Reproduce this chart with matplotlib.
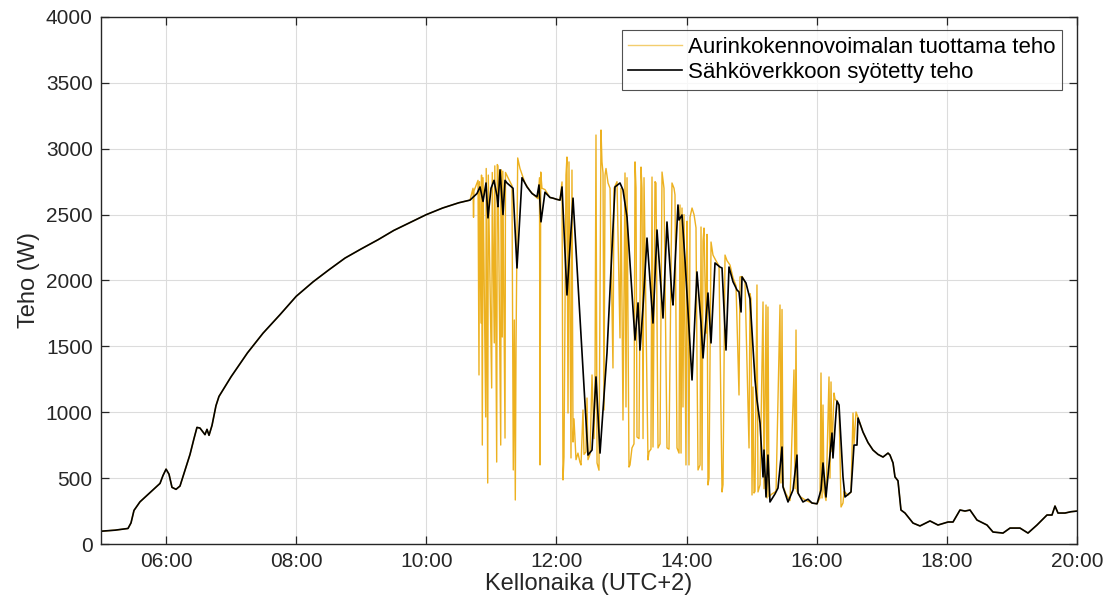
import matplotlib
matplotlib.use("Agg")
import matplotlib.pyplot as plt
import numpy as np

plt.rcParams['font.family'] = ['Liberation Sans', 'DejaVu Sans']

# Grid feed-in power (W), time in decimal hours
grid_t = [
    5.000, 5.215, 5.415, 5.461, 5.507, 5.599, 5.753, 5.907, 5.953, 6.000,
    6.045, 6.091, 6.153, 6.214, 6.291, 6.368, 6.429, 6.475, 6.521, 6.568,
    6.598, 6.629, 6.660, 6.706, 6.767, 6.813, 7.000, 7.250, 7.490, 7.750,
    8.000, 8.260, 8.500, 8.750, 9.000, 9.260, 9.500, 9.750, 10.000, 10.250,
    10.500, 10.671, 10.778, 10.825, 10.871, 10.917, 10.947, 10.994, 11.040, 11.086,
    11.101, 11.132, 11.178, 11.209, 11.239, 11.286, 11.332, 11.393, 11.470, 11.547,
    11.624, 11.700, 11.731, 11.762, 11.823, 11.900, 11.946, 12.008, 12.054, 12.085,
    12.161, 12.254, 12.469, 12.484, 12.546, 12.607, 12.669, 12.776, 12.868, 12.899,
    12.976, 13.022, 13.084, 13.207, 13.253, 13.283, 13.330, 13.391, 13.483, 13.545,
    13.637, 13.698, 13.775, 13.791, 13.867, 13.883, 13.929, 13.975, 14.083, 14.159,
    14.221, 14.252, 14.328, 14.375, 14.436, 14.513, 14.544, 14.605, 14.651, 14.713,
    14.774, 14.805, 14.836, 14.851, 14.912, 14.974, 15.020, 15.051, 15.081, 15.128,
    15.174, 15.189, 15.220, 15.250, 15.281, 15.358, 15.404, 15.466, 15.481, 15.558,
    15.635, 15.696, 15.712, 15.788, 15.865, 15.927, 16.004, 16.065, 16.096, 16.142,
    16.234, 16.249, 16.296, 16.311, 16.342, 16.403, 16.434, 16.526, 16.572, 16.618,
    16.634, 16.710, 16.787, 16.864, 16.941, 17.018, 17.095, 17.125, 17.172, 17.202,
    17.248, 17.294, 17.356, 17.479, 17.586, 17.740, 17.863, 18.017, 18.094, 18.201,
    18.278, 18.355, 18.462, 18.616, 18.708, 18.862, 18.970, 19.123, 19.246, 19.384,
    19.538, 19.615, 19.661, 19.707, 19.815, 19.907, 20.000,
]
grid_p = [
    97, 105, 118, 160, 255, 320, 390, 460, 520, 568,
    530, 430, 415, 440, 560, 680, 800, 885, 880, 850,
    830, 870, 825, 900, 1050, 1120, 1270, 1450, 1600, 1740,
    1880, 1990, 2080, 2170, 2240, 2310, 2380, 2440, 2500, 2550,
    2590, 2610, 2660, 2710, 2600, 2740, 2475, 2700, 2760, 2640,
    2560, 2840, 2500, 2760, 2740, 2720, 2700, 2095, 2780, 2710,
    2660, 2635, 2725, 2445, 2670, 2630, 2625, 2615, 2610, 2710,
    1890, 2625, 790, 675, 713, 1268, 690, 1450, 2383, 2710,
    2740, 2687, 2480, 1548, 1830, 1472, 1800, 2322, 1677, 2383,
    1715, 2444, 1875, 1814, 2573, 2459, 2497, 2155, 1245, 2065,
    1677, 1412, 1905, 1526, 2133, 2102, 2095, 1472, 2102, 1990,
    1928, 1913, 1761, 2027, 1981, 1860, 1500, 1245, 1093, 918,
    509, 713, 357, 675, 319, 380, 425, 736, 433, 319,
    410, 675, 387, 319, 340, 311, 305, 410, 615, 357,
    842, 653, 994, 1085, 1055, 509, 357, 395, 751, 751,
    956, 850, 770, 713, 680, 660, 690, 675, 615, 509,
    480, 258, 235, 159, 137, 175, 144, 167, 167, 258,
    250, 258, 182, 144, 91, 83, 121, 121, 83, 144,
    220, 220, 288, 235, 235, 245, 250,
]

# Solar panel output (W) during the cloudy hours, time in decimal hours
pv_t = [
    10.717, 10.725, 10.732, 10.794, 10.809, 10.817, 10.840, 10.848, 10.860, 10.871,
    10.912, 10.920, 10.943, 10.952, 11.004, 11.013, 11.044, 11.052, 11.081, 11.090,
    11.101, 11.143, 11.150, 11.167, 11.175, 11.209, 11.216, 11.255, 11.316, 11.336,
    11.352, 11.367, 11.378, 11.404, 11.439, 11.516, 11.593, 11.670, 11.716, 11.739,
    11.747, 11.758, 11.777, 11.823, 11.900, 11.977, 12.054, 12.085, 12.100, 12.115,
    12.146, 12.161, 12.177, 12.192, 12.223, 12.238, 12.254, 12.269, 12.300, 12.330,
    12.361, 12.377, 12.407, 12.423, 12.453, 12.469, 12.484, 12.515, 12.546, 12.576,
    12.592, 12.607, 12.623, 12.653, 12.684, 12.699, 12.715, 12.730, 12.746, 12.761,
    12.792, 12.823, 12.868, 12.884, 12.930, 12.976, 12.991, 13.022, 13.053, 13.068,
    13.084, 13.114, 13.130, 13.160, 13.191, 13.207, 13.222, 13.237, 13.268, 13.299,
    13.314, 13.330, 13.345, 13.406, 13.422, 13.452, 13.468, 13.483, 13.514, 13.529,
    13.560, 13.591, 13.622, 13.652, 13.698, 13.729, 13.775, 13.806, 13.821, 13.852,
    13.883, 13.898, 13.914, 13.929, 13.944, 13.960, 13.990, 14.006, 14.021, 14.036,
    14.052, 14.083, 14.114, 14.144, 14.159, 14.175, 14.206, 14.221, 14.237, 14.252,
    14.267, 14.298, 14.313, 14.328, 14.344, 14.375, 14.405, 14.451, 14.498, 14.544,
    14.559, 14.590, 14.621, 14.667, 14.713, 14.759, 14.805, 14.820, 14.851, 14.897,
    14.959, 14.974, 14.989, 15.005, 15.020, 15.036, 15.051, 15.081, 15.097, 15.128,
    15.174, 15.189, 15.220, 15.235, 15.250, 15.266, 15.312, 15.374, 15.435, 15.450,
    15.466, 15.481, 15.527, 15.589, 15.650, 15.666, 15.681, 15.696, 15.742, 15.835,
    15.927, 16.004, 16.050, 16.065, 16.081, 16.096, 16.111, 16.142, 16.188, 16.203,
    16.219, 16.234, 16.265, 16.280, 16.311, 16.342, 16.373, 16.403, 16.419, 16.480,
    16.526, 16.557, 16.572, 16.603, 16.634,
]
pv_p = [
    2700, 2480, 2680, 2760, 1283, 2750, 1677, 2800, 751, 2780,
    964, 2850, 463, 2800, 1184, 2820, 1526, 2870, 622, 2880,
    2870, 751, 2840, 1571, 2830, 804, 2820, 2780, 2720, 562,
    1700, 334, 1500, 2930, 2850, 2740, 2680, 2640, 2620, 2780,
    600, 2823, 2700, 2690, 2630, 2620, 2610, 2748, 486, 660,
    2800, 2937, 994, 2900, 653, 2838, 774, 950, 640, 690,
    620, 600, 1017, 680, 700, 1108, 640, 680, 1283, 800,
    1200, 3104, 615, 560, 3142, 2900, 2816, 1017, 2800, 2850,
    2740, 2700, 1336, 2700, 2750, 1564, 2700, 941, 2816, 1040,
    2780, 584, 600, 729, 760, 2900, 2700, 812, 800, 2861,
    2700, 800, 2780, 638, 700, 720, 2785, 736, 2750, 2740,
    729, 760, 2823, 2700, 729, 720, 2740, 2700, 2650, 729,
    690, 2573, 690, 2550, 1040, 2500, 600, 2450, 1913, 600,
    2480, 2550, 2500, 2400, 1412, 562, 600, 2406, 562, 2300,
    2398, 1600, 2350, 448, 500, 2292, 2193, 2150, 2110, 395,
    450, 2193, 2150, 2117, 2020, 1960, 1131, 2027, 2030, 1990,
    729, 1900, 1860, 372, 1192, 387, 400, 1966, 395, 450,
    1837, 420, 1814, 349, 1799, 360, 380, 400, 1814, 463,
    1780, 440, 380, 330, 1321, 420, 1624, 400, 360, 330,
    311, 305, 350, 1298, 349, 1055, 400, 330, 1268, 500,
    1230, 700, 1146, 1100, 1085, 1050, 281, 311, 400, 370,
    395, 994, 760, 1002, 960,
]

xtick_hours = [6, 8, 10, 12, 14, 16, 18, 20]
xtick_labels = ["%02d:00" % h for h in xtick_hours]
yticks = list(range(0, 4001, 500))

# outside the cloudy period the panel output follows the grid feed
gt = np.array(grid_t)
gp = np.array(grid_p)
before = gt < pv_t[0]
after = gt > pv_t[-1]
solar_t = np.concatenate([gt[before], pv_t, gt[after]])
solar_p = np.concatenate([gp[before], pv_p, gp[after]])

fig = plt.figure(figsize=(11.16, 6.06), dpi=100)
ax = fig.add_axes([0.0905, 0.1023, 0.8746, 0.8697])

ax.plot(solar_t, solar_p, color='#EDB120', lw=1.0,
        label='Aurinkokennovoimalan tuottama teho')
ax.plot(gt, gp, color='black', lw=1.2, label='Sähköverkkoon syötetty teho')

ax.set_xlim(5, 20)
ax.set_ylim(0, 4000)
ax.set_xticks(xtick_hours)
ax.set_xticklabels(xtick_labels)
ax.set_yticks(yticks)

ax.grid(True, color='#dcdcdc', lw=0.8)
ax.set_axisbelow(True)
for s in ax.spines.values():
    s.set_color('#262626')
    s.set_linewidth(1.0)
ax.tick_params(direction='in', length=6, width=0.9, colors='#262626',
               labelsize=15, top=True, right=True, pad=6)

ax.set_xlabel('Kellonaika (UTC+2)', fontsize=17, color='#262626', labelpad=1)
ax.set_ylabel('Teho (W)', fontsize=17, color='#262626', labelpad=4)

leg = ax.legend(loc='upper right', bbox_to_anchor=(0.985, 0.975), borderaxespad=0,
                fontsize=16, frameon=True, fancybox=False, handlelength=2.4,
                handletextpad=0.3, borderpad=0.3, labelspacing=0.2)
leg.get_frame().set_edgecolor('#262626')
leg.get_frame().set_linewidth(0.8)
# paler swatch for the panel output line in the legend
leg.get_lines()[0].set_color('#F3CD6E')

fig.savefig('out.png', dpi=100)
